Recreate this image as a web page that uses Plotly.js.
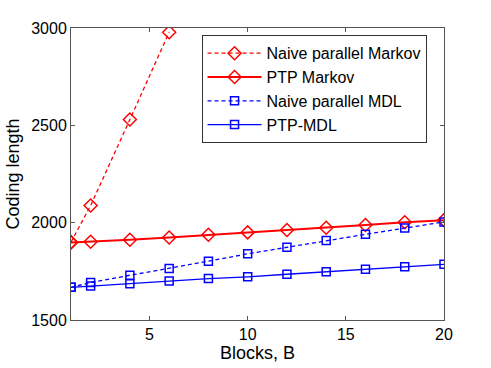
<!DOCTYPE html>
<html>
<head>
<meta charset="utf-8">
<script src="https://cdn.plot.ly/plotly-3.0.1.min.js"></script>
<style>
  html, body { margin: 0; padding: 0; background: #fff; }
  #chart { width: 491px; height: 368px; }
</style>
</head>
<body>
<div id="chart"></div>
<script>
// block counts
const blocksNaiveMarkov = [1, 2, 4, 6];
const blocks = [1, 2, 4, 6, 8, 10, 12, 14, 16, 18, 20];

// coding lengths
const naiveMarkov = [1900, 2088, 2530, 2978];
const ptpMarkov = [1898, 1902, 1912, 1924, 1938, 1950, 1962, 1974, 1988, 2002, 2013];
const naiveMDL = [1668, 1692, 1730, 1765, 1802, 1840, 1874, 1908, 1940, 1972, 2004];
const ptpMDL = [1668, 1675, 1686, 1700, 1713, 1722, 1735, 1748, 1761, 1773, 1786];

const red = '#ff0000';
const blue = '#0000ff';

const traces = [
  {
    x: blocksNaiveMarkov, y: naiveMarkov, name: 'Naive parallel Markov',
    mode: 'lines+markers', type: 'scatter',
    line: { color: red, width: 1.3, dash: '4px,3px' },
    marker: { symbol: 'diamond-open', size: 10, color: red, line: { width: 1.5 } }
  },
  {
    x: blocks, y: ptpMarkov, name: 'PTP Markov',
    mode: 'lines+markers', type: 'scatter',
    line: { color: red, width: 2 },
    marker: { symbol: 'diamond-open', size: 10, color: red, line: { width: 1.5 } }
  },
  {
    x: blocks, y: naiveMDL, name: 'Naive parallel MDL',
    mode: 'lines+markers', type: 'scatter',
    line: { color: blue, width: 1.3, dash: '4px,3px' },
    marker: { symbol: 'square-open', size: 8, color: blue, line: { width: 1.5 } }
  },
  {
    x: blocks, y: ptpMDL, name: 'PTP-MDL',
    mode: 'lines+markers', type: 'scatter',
    line: { color: blue, width: 1.3 },
    marker: { symbol: 'square-open', size: 8, color: blue, line: { width: 1.5 } }
  }
];

const axisBase = {
  showgrid: false,
  zeroline: false,
  showline: true,
  linecolor: '#555',
  linewidth: 1,
  mirror: 'ticks',
  ticks: 'inside',
  ticklen: 4,
  tickcolor: '#555',
  tickfont: { size: 16, color: '#000' }
};

const layout = {
  width: 491,
  height: 368,
  margin: { l: 71, r: 47, t: 28, b: 48 },
  paper_bgcolor: '#fff',
  plot_bgcolor: '#fff',
  font: { family: 'Arial, "Liberation Sans", sans-serif', color: '#000' },
  showlegend: true,
  legend: {
    x: 0.35, y: 0.975, xanchor: 'left', yanchor: 'top',
    bordercolor: '#333', borderwidth: 1, bgcolor: '#fff',
    font: { size: 16 }, tracegroupgap: 0, itemwidth: 54
  },
  xaxis: Object.assign({}, axisBase, {
    range: [1, 20],
    tickvals: [5, 10, 15, 20],
    title: { text: 'Blocks, B', font: { size: 18 }, standoff: 4 }
  }),
  yaxis: Object.assign({}, axisBase, {
    range: [1500, 3000],
    tickvals: [1500, 2000, 2500, 3000],
    title: { text: 'Coding length', font: { size: 18 }, standoff: 6 }
  })
};

Plotly.newPlot('chart', traces, layout, { displayModeBar: false, staticPlot: true });
</script>
</body>
</html>
